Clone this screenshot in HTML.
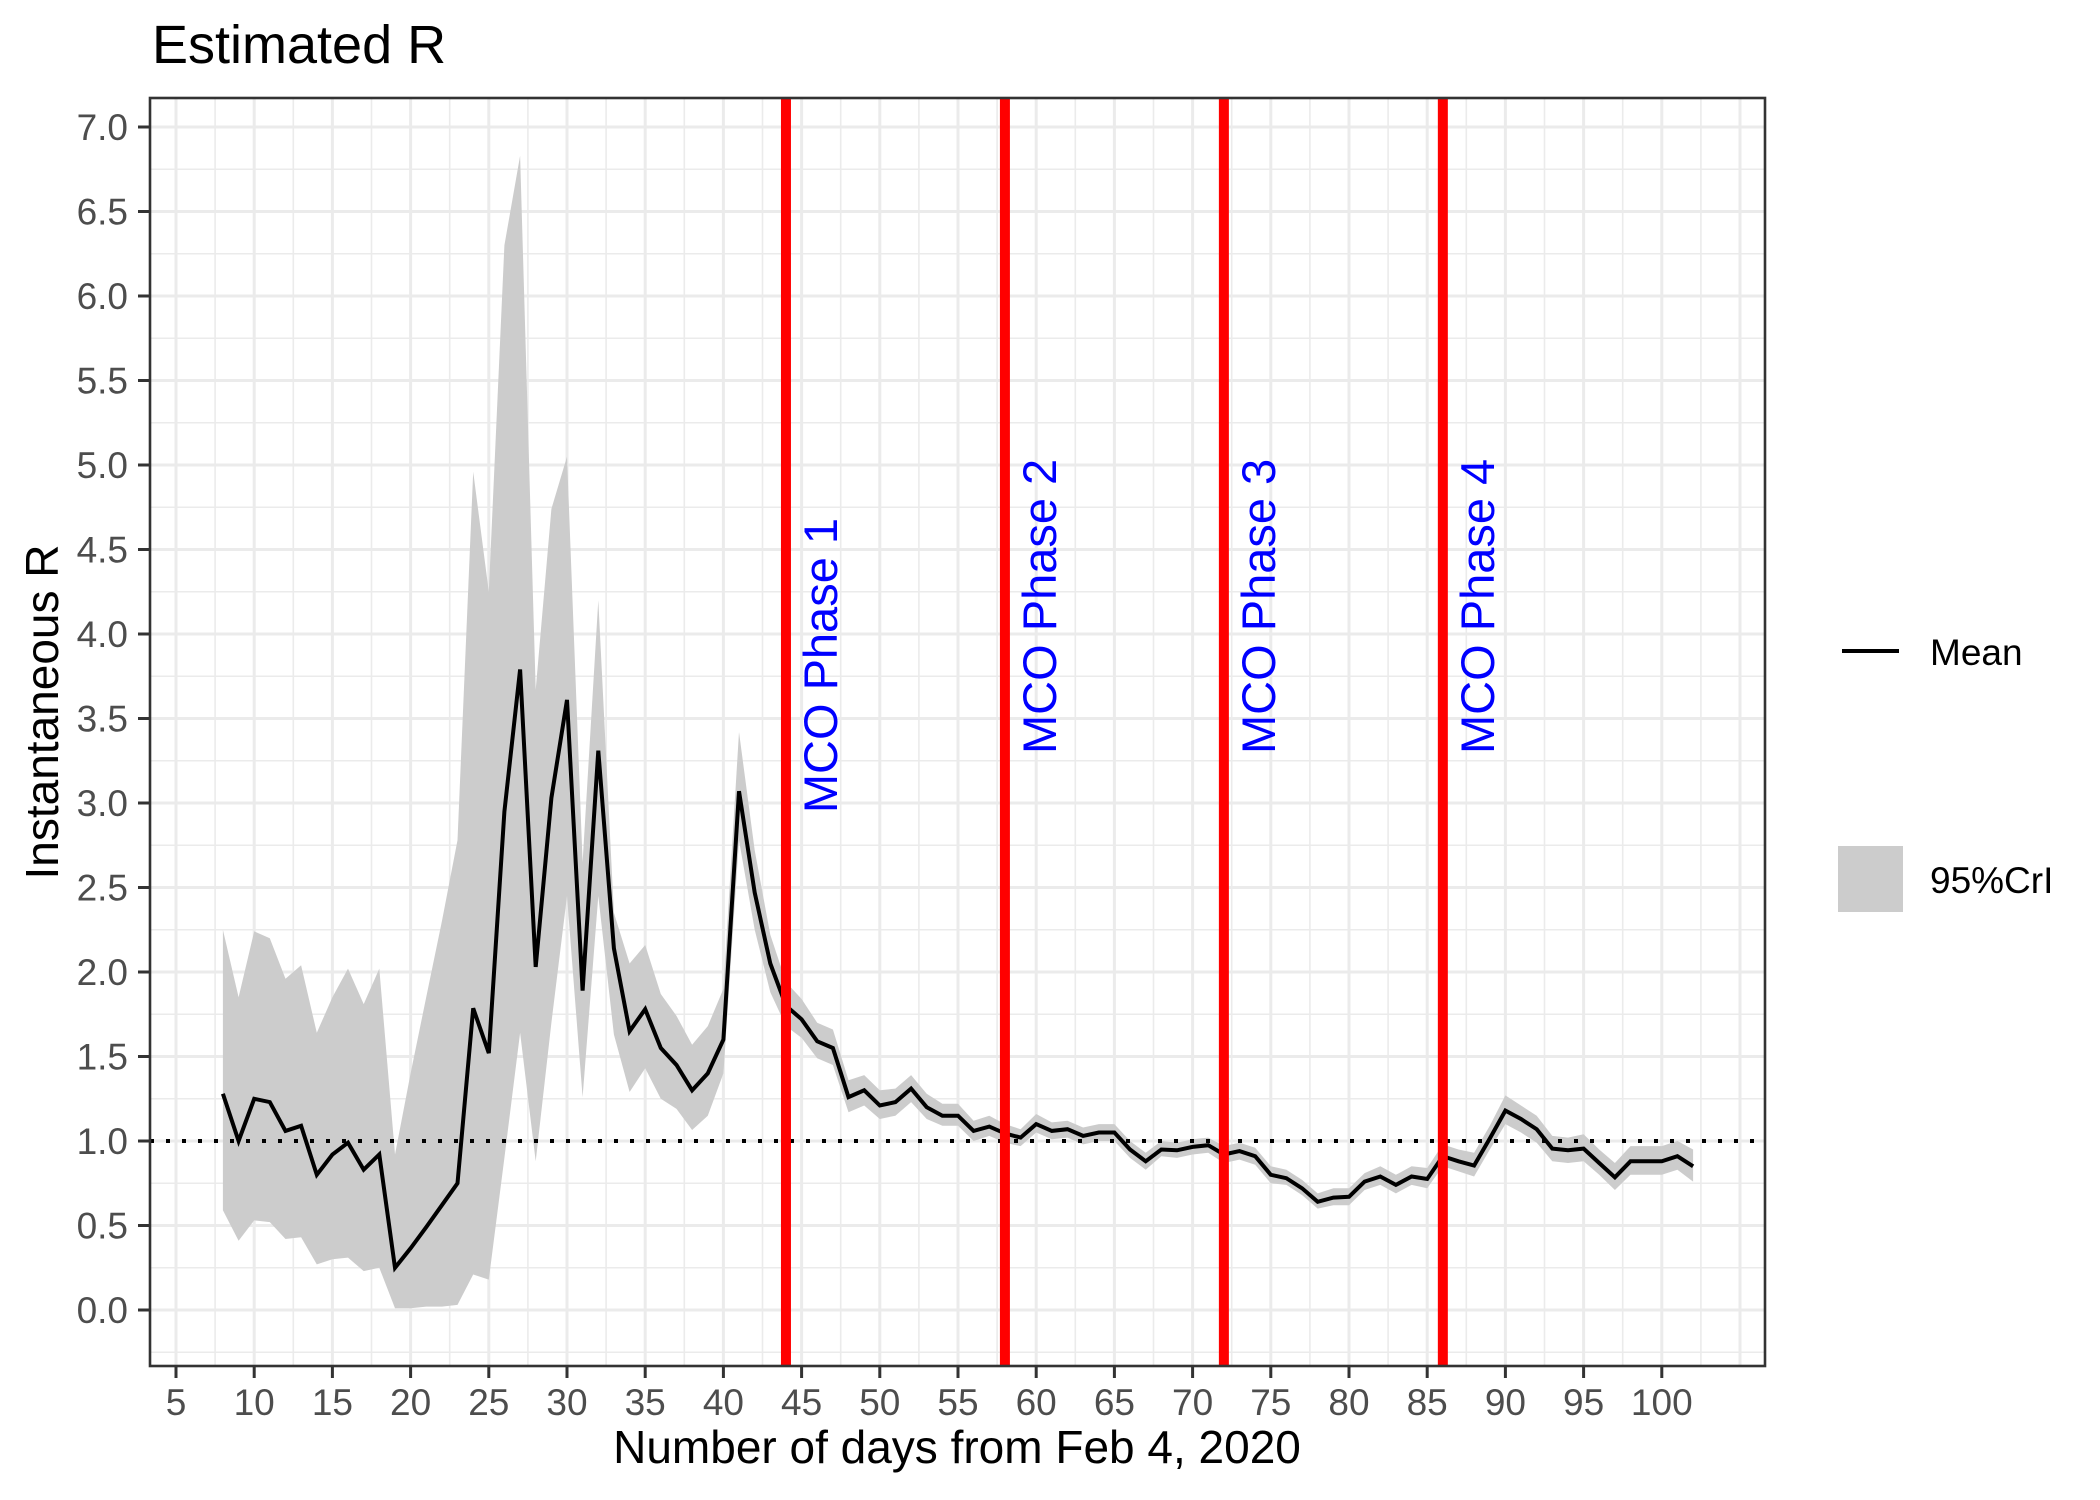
<!DOCTYPE html>
<html><head><meta charset="utf-8"><style>
html,body{margin:0;padding:0;background:#fff;}
svg{display:block;font-family:"Liberation Sans",Arial,sans-serif;}
</style></head><body>
<svg id="chart" width="2100" height="1500" viewBox="0 0 2100 1500">
<rect x="0" y="0" width="2100" height="1500" fill="#fff"/>
<g id="grid"></g>
<g id="band"></g>
<g id="refline"></g>
<g id="meanline"></g>
<g id="phases"></g>
<g id="axes"></g>
<text x="152" y="63" font-size="54" fill="#000">Estimated R</text>
<text x="957" y="1463" font-size="46" fill="#000" text-anchor="middle">Number of days from Feb 4, 2020</text>
<text transform="translate(58,712) rotate(-90)" font-size="46" fill="#000" text-anchor="middle">Instantaneous R</text>
<g>
  <line x1="1842" y1="651" x2="1899" y2="651" stroke="#000" stroke-width="4"/>
  <text x="1930" y="665" font-size="37" fill="#000">Mean</text>
  <rect x="1838" y="846" width="65" height="66" fill="#cccccc"/>
  <text x="1930" y="893" font-size="37" fill="#000">95%CrI</text>
</g>
</svg>
<script>
const days = [8,9,10,11,12,13,14,15,16,17,18,19,20,21,22,23,24,25,26,27,28,29,30,31,32,33,34,35,36,37,38,39,40,41,42,43,44,45,46,47,48,49,50,51,52,53,54,55,56,57,58,59,60,61,62,63,64,65,66,67,68,69,70,71,72,73,74,75,76,77,78,79,80,81,82,83,84,85,86,87,88,89,90,91,92,93,94,95,96,97,98,99,100,101,102];
const meanR = [1.28,1.00,1.25,1.23,1.06,1.09,0.80,0.92,0.99,0.83,0.92,0.25,0.365,0.49,0.62,0.75,1.785,1.52,2.95,3.79,2.03,3.03,3.61,1.89,3.31,2.14,1.65,1.78,1.55,1.45,1.30,1.40,1.60,3.07,2.47,2.05,1.80,1.72,1.59,1.55,1.26,1.30,1.21,1.23,1.31,1.20,1.15,1.15,1.06,1.085,1.045,1.02,1.10,1.06,1.07,1.03,1.05,1.05,0.95,0.88,0.95,0.945,0.965,0.975,0.92,0.94,0.91,0.80,0.78,0.72,0.64,0.665,0.67,0.76,0.79,0.74,0.79,0.775,0.91,0.88,0.855,1.015,1.18,1.13,1.07,0.955,0.945,0.955,0.87,0.785,0.88,0.88,0.88,0.91,0.85];
const upperR = [2.25,1.85,2.24,2.20,1.96,2.04,1.64,1.85,2.02,1.81,2.02,0.92,1.40,1.85,2.30,2.78,4.96,4.25,6.30,6.83,3.67,4.74,5.05,2.65,4.20,2.35,2.05,2.16,1.87,1.74,1.57,1.68,1.90,3.42,2.72,2.22,1.94,1.84,1.70,1.66,1.36,1.39,1.30,1.31,1.39,1.28,1.22,1.22,1.12,1.15,1.10,1.07,1.16,1.11,1.12,1.08,1.10,1.10,1.00,0.93,1.00,0.99,1.01,1.02,0.97,0.99,0.96,0.85,0.83,0.77,0.69,0.72,0.72,0.81,0.85,0.80,0.85,0.84,0.98,0.95,0.93,1.09,1.27,1.21,1.15,1.03,1.02,1.04,0.95,0.87,0.97,0.97,0.97,1.00,0.95];
const lowerR = [0.59,0.41,0.53,0.52,0.42,0.43,0.27,0.30,0.31,0.23,0.25,0.01,0.01,0.02,0.02,0.03,0.21,0.18,0.90,1.64,0.88,1.70,2.45,1.26,2.45,1.63,1.29,1.43,1.25,1.19,1.065,1.15,1.40,2.78,2.25,1.88,1.68,1.61,1.49,1.45,1.17,1.21,1.13,1.15,1.23,1.13,1.09,1.09,1.00,1.03,0.99,0.97,1.05,1.01,1.02,0.98,1.00,1.00,0.90,0.83,0.91,0.90,0.92,0.93,0.87,0.89,0.86,0.75,0.74,0.68,0.60,0.62,0.62,0.71,0.74,0.69,0.74,0.72,0.85,0.82,0.79,0.95,1.10,1.05,0.99,0.88,0.87,0.88,0.80,0.71,0.80,0.80,0.80,0.83,0.76];
const phaseDays = [44,58,72,86];
const phaseLabels = ["MCO Phase 1","MCO Phase 2","MCO Phase 3","MCO Phase 4"];
const phaseLabelY = [2.94,3.29,3.29,3.29];
const xTicks = [5,10,15,20,25,30,35,40,45,50,55,60,65,70,75,80,85,90,95,100];
const yTicks = [0,0.5,1,1.5,2,2.5,3,3.5,4,4.5,5,5.5,6,6.5,7];
const refValue = 1;

const NS = "http://www.w3.org/2000/svg";
const P = {left:150, right:1765, top:98, bottom:1366};
const xs = d => 176 + (d - 5) * 15.64;
const ys = v => 1310 - v * 169;
function mk(tag, attrs, parent){
  const e = document.createElementNS(NS, tag);
  for (const k in attrs) e.setAttribute(k, attrs[k]);
  parent.appendChild(e);
  return e;
}
const grid = document.getElementById('grid');
mk('rect',{x:P.left,y:P.top,width:P.right-P.left,height:P.bottom-P.top,fill:'#fff'},grid);
for (let d = 2.5; d <= 110; d += 5) {
  const x = xs(d); if (x < P.left || x > P.right) continue;
  const l = mk('line',{x1:x,x2:x,y1:P.top,y2:P.bottom,stroke:'#ebebeb','stroke-width':1.6},grid);
  
  
}
for (let v = -0.25; v <= 7.5; v += 0.5) {
  const y = ys(v); if (y < P.top || y > P.bottom) continue;
  const l = mk('line',{x1:P.left,x2:P.right,y1:y,y2:y,stroke:'#ebebeb','stroke-width':1.6},grid);
  
  
}
const xMajor = xTicks.concat([105]);
xMajor.forEach(d => {
  const x = xs(d); if (x < P.left || x > P.right) return;
  const l = mk('line',{x1:x,x2:x,y1:P.top,y2:P.bottom,stroke:'#ebebeb','stroke-width':3},grid);
  
  
});
yTicks.forEach(v => {
  const y = ys(v);
  const l = mk('line',{x1:P.left,x2:P.right,y1:y,y2:y,stroke:'#ebebeb','stroke-width':3},grid);
  
  
});
let pts = [];
days.forEach((d,i) => pts.push(xs(d).toFixed(1)+','+ys(upperR[i]).toFixed(1)));
for (let i = days.length-1; i >= 0; i--) pts.push(xs(days[i]).toFixed(1)+','+ys(lowerR[i]).toFixed(1));
const band = mk('polygon',{points:pts.join(' '),fill:'#cccccc'},document.getElementById('band'));


const rl = mk('line',{x1:P.left,x2:P.right,y1:ys(refValue),y2:ys(refValue),stroke:'#000','stroke-width':4,'stroke-dasharray':'4 12'},document.getElementById('refline'));


const mp = days.map((d,i) => xs(d).toFixed(1)+','+ys(meanR[i]).toFixed(1)).join(' ');
const ml = mk('polyline',{points:mp,fill:'none',stroke:'#000','stroke-width':4,'stroke-linejoin':'miter'},document.getElementById('meanline'));


const ph = document.getElementById('phases');
phaseDays.forEach((d,i) => {
  const x = xs(d);
  const l = mk('line',{x1:x,x2:x,y1:P.top,y2:P.bottom,stroke:'#ff0000','stroke-width':10},ph);
  
  
  const t = mk('text',{transform:'translate('+(x+51)+','+ys(phaseLabelY[i])+') rotate(-90)','font-size':47,fill:'#0000ff'},ph);
  t.textContent = phaseLabels[i];
  
  
});
const ax = document.getElementById('axes');
mk('rect',{x:P.left,y:P.top,width:P.right-P.left,height:P.bottom-P.top,fill:'none',stroke:'#333','stroke-width':2.6},ax);
xTicks.forEach(d => {
  const x = xs(d);
  const t = mk('line',{x1:x,x2:x,y1:P.bottom,y2:P.bottom+12,stroke:'#333','stroke-width':3},ax);
  
  
  const lb = mk('text',{x:x,y:1415,'font-size':37,fill:'#4d4d4d','text-anchor':'middle'},ax);
  lb.textContent = String(d);
  
  
});
yTicks.forEach(v => {
  const y = ys(v);
  const t = mk('line',{x1:P.left-12,x2:P.left,y1:y,y2:y,stroke:'#333','stroke-width':3},ax);
  
  
  const lb = mk('text',{x:128,y:y+13,'font-size':37,fill:'#4d4d4d','text-anchor':'end'},ax);
  lb.textContent = v.toFixed(1);
  
  
});
</script>
</body></html>
